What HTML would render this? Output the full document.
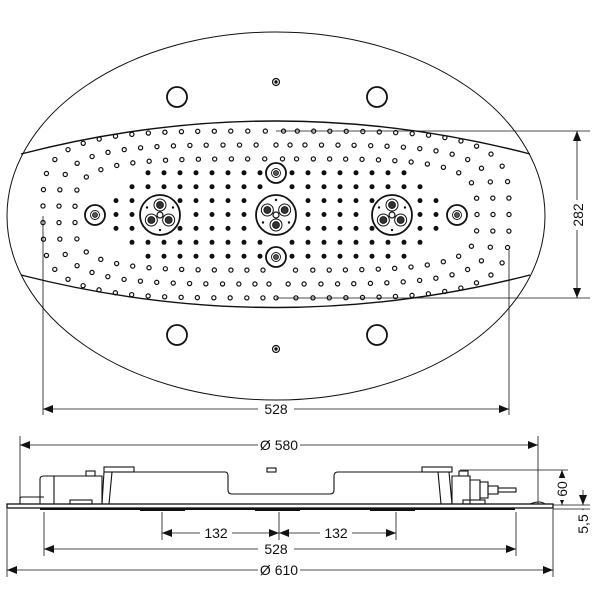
<!DOCTYPE html>
<html><head><meta charset="utf-8"><style>
html,body{margin:0;padding:0;background:#fff;width:600px;height:600px;overflow:hidden}
svg text{font-family:"Liberation Sans",sans-serif;font-size:14px;fill:#111}
</style></head><body>
<svg id="s" width="600" height="600" viewBox="0 0 600 600" xmlns="http://www.w3.org/2000/svg">
<defs>
<marker id="a" viewBox="0 0 10 10" refX="10" refY="5" markerWidth="10" markerHeight="10" markerUnits="userSpaceOnUse" orient="auto-start-reverse"><path d="M0,1 L10,5 L0,9 Z" fill="#111"/></marker>
</defs>
<g fill="none" stroke="#111">
<ellipse cx="276" cy="216" rx="269" ry="184" stroke-width="1"/>
<path d="M21,154 Q276,88 530,154" stroke-width="1.4"/>
<path d="M21,275 Q276,340 530,275" stroke-width="1.4"/>
<g stroke-width="1.8">
<circle cx="177" cy="97" r="10"/><circle cx="377" cy="97" r="10"/>
<circle cx="177" cy="335" r="10"/><circle cx="377" cy="335" r="10"/>
</g>
<circle cx="276" cy="82" r="3.5" stroke-width="1.2"/><circle cx="276" cy="82" r="1.2" fill="#111"/>
<circle cx="276" cy="349" r="3.5" stroke-width="1.2"/><circle cx="276" cy="349" r="1.2" fill="#111"/>
</g>
<g id="dots"></g>
<g id="noz" fill="none" stroke="#111"></g>
<g stroke="#111" stroke-width="0.8" fill="none">
<line x1="276" y1="131" x2="590" y2="131"/>
<line x1="276" y1="298" x2="590" y2="298"/>
<line x1="577" y1="131" x2="577" y2="298" marker-start="url(#a)" marker-end="url(#a)"/>
<line x1="43" y1="216" x2="43" y2="415"/>
<line x1="509" y1="250" x2="509" y2="415"/>
<line x1="43" y1="409" x2="509" y2="409" marker-start="url(#a)" marker-end="url(#a)"/>
</g>
<rect x="258" y="402" width="36" height="14" fill="#fff"/>
<text x="276" y="414" text-anchor="middle">528</text>
<rect x="570" y="200" width="16" height="30" fill="#fff"/>
<text transform="translate(583,215) rotate(-90)" text-anchor="middle">282</text>

<g stroke="#111" stroke-width="0.8" fill="none">
<line x1="20" y1="436" x2="20" y2="505"/>
<line x1="538" y1="436" x2="538" y2="505"/>
<line x1="20" y1="445" x2="538" y2="445" marker-start="url(#a)" marker-end="url(#a)"/>
<line x1="7" y1="509" x2="7" y2="577"/>
<line x1="553" y1="509" x2="553" y2="577"/>
<line x1="7" y1="570" x2="553" y2="570" marker-start="url(#a)" marker-end="url(#a)"/>
<line x1="44" y1="512" x2="44" y2="556"/>
<line x1="516" y1="512" x2="516" y2="556"/>
<line x1="44" y1="549" x2="516" y2="549" marker-start="url(#a)" marker-end="url(#a)"/>
<line x1="162" y1="512" x2="162" y2="540"/>
<line x1="279" y1="512" x2="279" y2="540"/>
<line x1="396" y1="512" x2="396" y2="540"/>
<line x1="162" y1="533" x2="279" y2="533" marker-start="url(#a)" marker-end="url(#a)"/>
<line x1="279" y1="533" x2="396" y2="533" marker-start="url(#a)" marker-end="url(#a)"/>
<line x1="460" y1="470" x2="568" y2="470"/>
<line x1="553" y1="505" x2="590" y2="505"/>
<line x1="553" y1="509" x2="590" y2="509"/>
<line x1="562" y1="470" x2="562" y2="505" marker-start="url(#a)" marker-end="url(#a)"/>
<line x1="583" y1="490" x2="583" y2="505" marker-end="url(#a)"/>
<line x1="583" y1="530" x2="583" y2="509" marker-end="url(#a)"/>
</g>
<g stroke="#111" fill="none" stroke-width="1.1">
<rect x="7" y="504" width="546" height="4" fill="#fff" stroke-width="1.3"/>
<path d="M20,504 L20,499 Q20,497 22,497 L44,497"/>
<path d="M40,504 L40,479 Q40,476 44,476 L102,476 L102,504"/>
<line x1="54" y1="476" x2="54" y2="504"/>
<path d="M102,504 L104,472 L225,472 Q228,472 228,476 L228,490 Q228,494 232,494 L330,494 Q334,494 334,490 L334,476 Q334,472 338,472 L449,472 L452,504"/>
<line x1="112" y1="472" x2="109" y2="504"/>
<line x1="438" y1="472" x2="441" y2="504"/>
<rect x="104" y="467" width="30" height="5"/>
<rect x="422" y="467" width="30" height="5"/>
<rect x="86" y="471" width="9" height="5"/>
<rect x="267" y="468" width="9" height="4"/>
<rect x="459" y="471" width="9" height="5"/>
<rect x="70" y="500" width="22" height="4"/>
<rect x="463" y="500" width="22" height="4"/>
<path d="M452,504 L452,476 L470,476 L470,504 Z"/>
<path d="M470,480 L480,480 L480,500 L470,500"/>
<rect x="480" y="482" width="8" height="16"/>
<rect x="488" y="486" width="10" height="8"/>
<rect x="498" y="488" width="18" height="4"/>
<path d="M470,504 L530,504 Q540,500 545,504"/>
</g>
<g fill="#111">
<rect x="40" y="508" width="475" height="2"/>
<rect x="140" y="508" width="45" height="3"/>
<rect x="255" y="508" width="45" height="3"/>
<rect x="370" y="508" width="45" height="3"/>
</g>
<g fill="#fff">
<rect x="258" y="438" width="42" height="14"/>
<rect x="258" y="563" width="42" height="14"/>
<rect x="258" y="542" width="36" height="14"/>
<rect x="200" y="526" width="32" height="14"/>
<rect x="320" y="526" width="32" height="14"/>
<rect x="554" y="478" width="16" height="22"/>
<rect x="575" y="510" width="16" height="28"/>
</g>
<text x="279" y="450" text-anchor="middle">Ø 580</text>
<text x="279" y="575" text-anchor="middle">Ø 610</text>
<text x="276" y="554" text-anchor="middle">528</text>
<text x="216" y="538" text-anchor="middle">132</text>
<text x="336" y="538" text-anchor="middle">132</text>
<text transform="translate(567,489) rotate(-90)" text-anchor="middle">60</text>
<text transform="translate(588,524) rotate(-90)" text-anchor="middle">5,5</text>
</svg>
<script>
(function(){
var NS="http://www.w3.org/2000/svg",g=document.getElementById("dots"),nz=document.getElementById("noz");
var cx=276,cy=214.5;
var excl=[[160,215,24],[276,215,24],[392,215,24],[95,215,15],[457,215,15],[276,173,15],[276,257,15]];
function ok(x,y){for(var i=0;i<excl.length;i++){var e=excl[i];if((x-e[0])*(x-e[0])+(y-e[1])*(y-e[1])<e[2]*e[2])return false;}return true;}
function open(x,y){if(!ok(x,y))return;var c=document.createElementNS(NS,"circle");c.setAttribute("cx",x);c.setAttribute("cy",y);c.setAttribute("r",2.1);c.setAttribute("fill","none");c.setAttribute("stroke","#111");c.setAttribute("stroke-width","1.2");g.appendChild(c);}
function fill(x,y){if(!ok(x,y))return;var c=document.createElementNS(NS,"circle");c.setAttribute("cx",x);c.setAttribute("cy",y);c.setAttribute("r",2.5);c.setAttribute("fill","#111");g.appendChild(c);}
for(var j=-3;j<=3;j++){var y=cy+j*13.9;var lim=[165,160,150,135][Math.abs(j)];
 for(var k=-12;k<=12;k++){var x=cx+k*16;if(Math.abs(x-cx)<=lim)fill(x,y);}}
var rings=[[233,83.4],[217,69.5],[201,55.6]];
for(var r=0;r<3;r++){var rx=rings[r][0],ry=rings[r][1],n=4;
 var pts=[],N=6000;for(var i=0;i<N;i++){var t=2*Math.PI*i/N,c=Math.cos(t),s=Math.sin(t);
  pts.push([cx+rx*Math.sign(c)*Math.pow(Math.abs(c),2/n),cy+ry*Math.sign(s)*Math.pow(Math.abs(s),2/n)]);}
 var tot=0;for(var i=1;i<=N;i++){var p=pts[i%N],q=pts[i-1];tot+=Math.hypot(p[0]-q[0],p[1]-q[1]);}
 var cnt=Math.round(tot/16.5),step=tot/cnt,acc=0;open(pts[0][0],pts[0][1]);
 for(var i=1;i<N;i++){var d=Math.hypot(pts[i][0]-pts[i-1][0],pts[i][1]-pts[i-1][1]);acc+=d;if(acc>=step){open(pts[i][0],pts[i][1]);acc-=step;}}
}
function el(tag,a,p){var e=document.createElementNS(NS,tag);for(var k in a)e.setAttribute(k,a[k]);(p||nz).appendChild(e);return e;}
function small(x,y){el("circle",{cx:x,cy:y,r:10,"stroke-width":1.8});el("circle",{cx:x,cy:y,r:4.5,"stroke-width":0.9});el("circle",{cx:x,cy:y,r:2.5,fill:"#555",stroke:"#111","stroke-width":0.8});}
function big(x,y,rot){el("circle",{cx:x,cy:y,r:20,"stroke-width":1.8});
 for(var i=0;i<3;i++){var a=(rot+i*120)*Math.PI/180,px=x+10*Math.cos(a),py=y+10*Math.sin(a);
  el("circle",{cx:px,cy:py,r:6,"stroke-width":1});el("circle",{cx:px,cy:py,r:3.5,fill:"#333",stroke:"#111","stroke-width":0.8});
  var b=a+Math.PI/3;el("circle",{cx:x+15*Math.cos(b),cy:y+15*Math.sin(b),r:1.2,fill:"#111",stroke:"none"});}
 el("circle",{cx:x,cy:y,r:3,fill:"#fff","stroke-width":1.2});}
big(160,215,-90);big(276,215,-150);big(392,215,-90);
small(95,215);small(457,215);small(276,173);small(276,257);
})();
</script>
</body></html>
